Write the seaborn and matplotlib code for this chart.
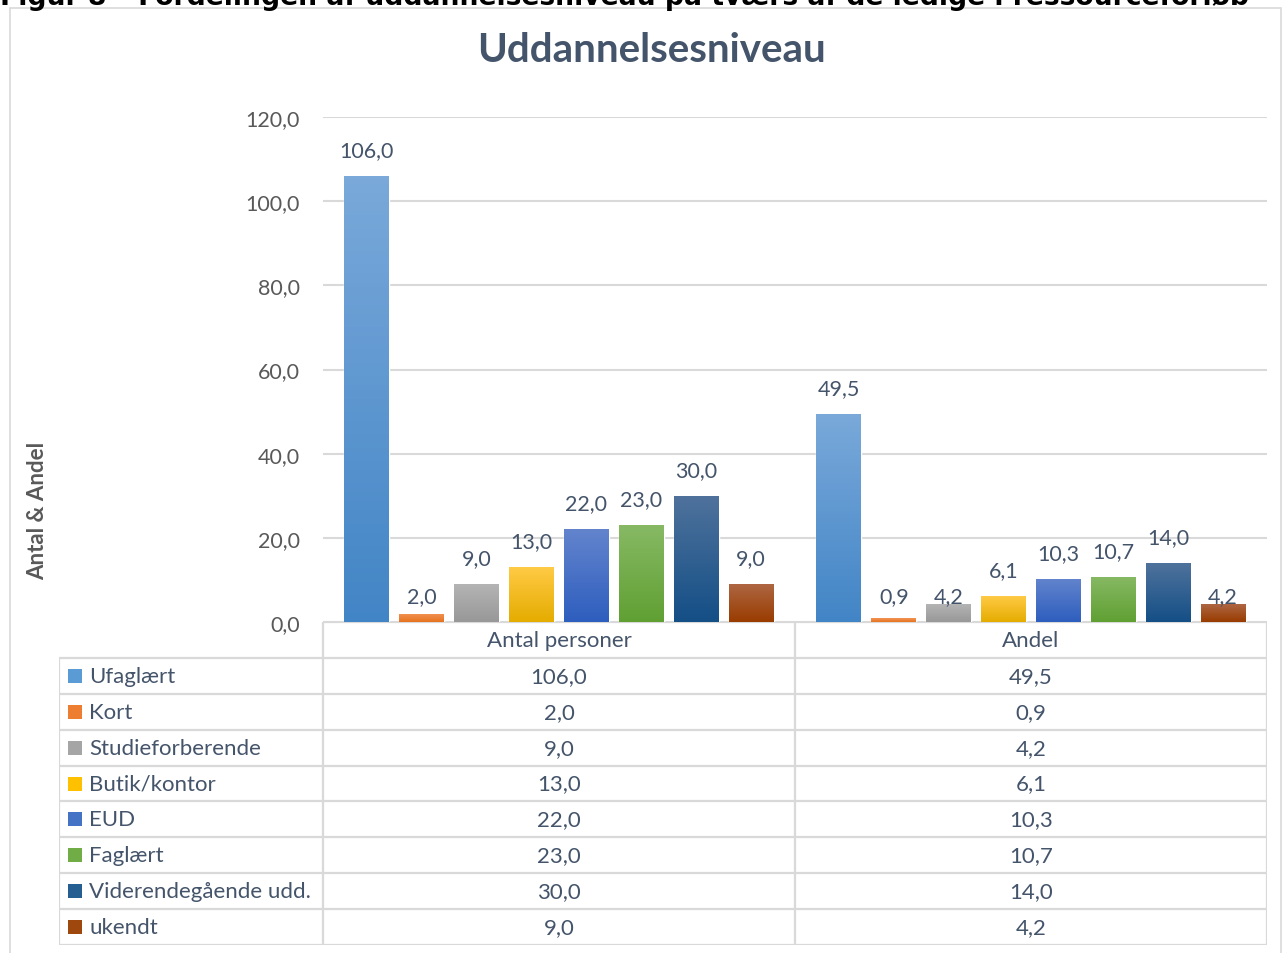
import numpy as np
import pandas as pd
import matplotlib
matplotlib.use("Agg")
import matplotlib.pyplot as plt
import seaborn as sns
from matplotlib.colors import LinearSegmentedColormap
from matplotlib.patches import Rectangle

# data
groups = ["Antal personer", "Andel"]
categories = ["Ufaglært", "Kort", "Studieforberende", "Butik/kontor", "EUD",
              "Faglært", "Viderendegående udd.", "ukendt"]
antal = [106.0, 2.0, 9.0, 13.0, 22.0, 23.0, 30.0, 9.0]
andel = [49.5, 0.9, 4.2, 6.1, 10.3, 10.7, 14.0, 4.2]
yticks = [0, 20, 40, 60, 80, 100, 120]

colors = ["#5B9BD5", "#ED7D31", "#A5A5A5", "#FFC000", "#4472C4", "#70AD47", "#255E91", "#9E480E"]
tops = ["#7AA9DA", "#F39456", "#B4B4B4", "#FFCA45", "#6384CD", "#87B964", "#4F729C", "#AE6642"]
bottoms = ["#4285C6", "#E6721E", "#989898", "#E5AC00", "#2E5EBE", "#60A033", "#144F86", "#993C00"]

df = pd.DataFrame({
    "group": np.repeat(groups, len(categories)),
    "category": categories * len(groups),
    "value": antal + andel,
})

sns.set_style("white")
plt.rcParams["font.family"] = ["Lato", "DejaVu Sans"]

W, H = 1285, 954
fig = plt.figure(figsize=(W / 100, H / 100), dpi=100)
slate = "#44546A"
grey = "#595959"
line = "#D9D9D9"
fs = 16

# outer frame + heading (cut off at the top like the source page)
fig.patches.append(Rectangle((10 / W, -0.05), 1271 / W, 1.05 - 9 / H, transform=fig.transFigure,
                             fill=False, ec=line, lw=1.2))
fig.text(0.0, 1 - 5 / H, "Figur 8 – Fordelingen af uddannelsesniveau på tværs af de ledige i ressourceforløb",
         family="DejaVu Sans", weight="bold", fontsize=19.2, va="baseline", ha="left", color="black")

fig.text(652 / W, 1 - 51 / H, "Uddannelsesniveau", ha="center", va="center",
         fontsize=29, weight="bold", color=slate)
fig.text(38 / W, 1 - 511 / H, "Antal & Andel", rotation=90, ha="center", va="center",
         fontsize=16, weight="bold", color=grey)

ax = fig.add_axes([323 / W, 1 - 623 / H, (1267 - 323) / W, (623 - 118) / H])
sns.barplot(data=df, x="group", y="value", hue="category", hue_order=categories,
            palette=colors, width=0.93, gap=0.18, errorbar=None, legend=False,
            saturation=1, ax=ax)

# gradient fill on each bar + value labels
for cont, top, bot in zip(ax.containers, tops, bottoms):
    cmap = LinearSegmentedColormap.from_list("g", [bot, top])
    for bar, v in zip(cont, cont.datavalues):
        x0, w, h = bar.get_x(), bar.get_width(), bar.get_height()
        im = ax.imshow(np.linspace(0, 1, 100).reshape(-1, 1), cmap=cmap, origin="lower",
                       extent=[x0, x0 + w, 0, h], aspect="auto", zorder=bar.get_zorder() + 0.1)
        im.set_clip_path(bar)
        # short bars: label sits at a fixed height above the base
        ax.annotate(f"{v:.1f}".replace(".", ","), (x0 + w / 2, v if v >= 5 else 0),
                    xytext=(0, 26), textcoords="offset pixels", ha="center", va="center",
                    fontsize=15.5, color=slate)

ax.set_xlim(-0.5, 1.5)
ax.set_ylim(0, 120)
ax.set_yticks(yticks)
ax.set_yticklabels([f"{t:.1f}".replace(".", ",") for t in yticks])
ax.tick_params(axis="y", length=0, pad=16.5, labelsize=15.5, labelcolor=grey)
ax.set_xticks([])
ax.set(xlabel="", ylabel="")
ax.grid(axis="y", color=line, lw=1.5)
ax.set_axisbelow(True)
sns.despine(ax=ax, left=True, bottom=True)

# data table below the chart
xmin = -0.5 - 264 / 472
tax = fig.add_axes([59 / W, 8 / H, (1267 - 59) / W, (946 - 623) / H])
tax.set_xlim(xmin, 1.5)
tax.set_ylim(len(categories) + 1, 0)
tax.axis("off")
tax.hlines(0, -0.5, 1.5, color=line, lw=1.6)
tax.hlines(np.arange(1, len(categories) + 2), xmin, 1.5, color=line, lw=1.6)
tax.vlines([-0.5, 0.5, 1.5], 0, len(categories) + 1, color=line, lw=1.6)
tax.vlines(xmin, 1, len(categories) + 1, color=line, lw=1.6)
for j, g in enumerate(groups):
    tax.text(j, 0.5, g, ha="center", va="center", fontsize=fs, color=slate)
for i, cat in enumerate(categories):
    y = i + 1.5
    tax.scatter(xmin + 16 / 472, y, marker="s", s=105, color=colors[i], linewidths=0)
    tax.text(xmin + 30 / 472, y, cat, ha="left", va="center", fontsize=fs, color=slate)
    tax.text(0, y, f"{antal[i]:.1f}".replace(".", ","), ha="center", va="center", fontsize=fs, color=slate)
    tax.text(1, y, f"{andel[i]:.1f}".replace(".", ","), ha="center", va="center", fontsize=fs, color=slate)

fig.savefig("out.png", dpi=100)
